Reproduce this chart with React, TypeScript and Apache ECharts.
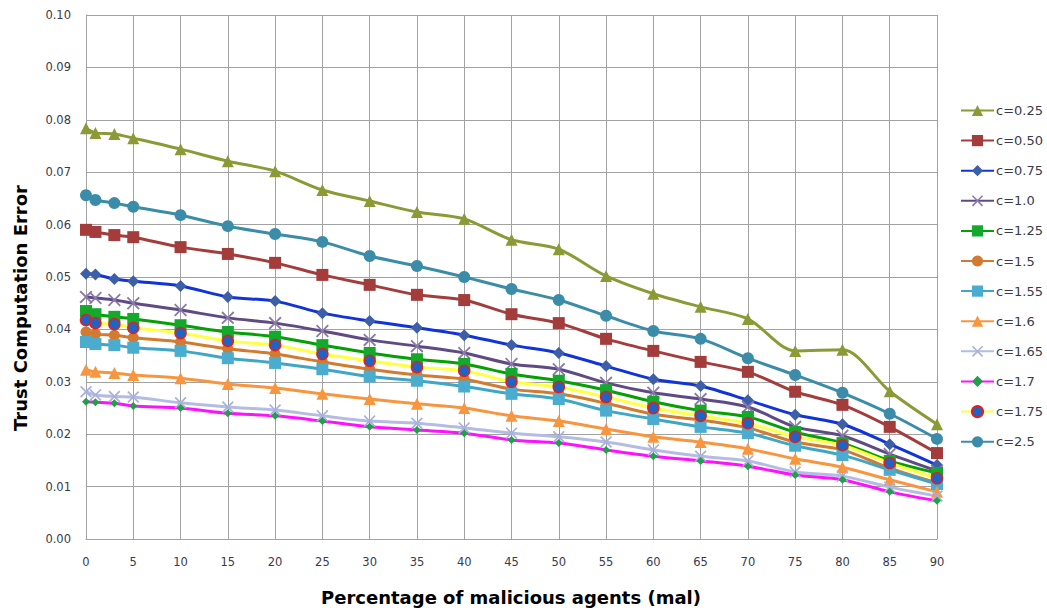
import React, { useEffect, useRef } from "react";
import * as echarts from "echarts";

const xValues = [0, 1, 3, 5, 10, 15, 20, 25, 30, 35, 40, 45, 50, 55, 60, 65, 70, 75, 80, 85, 90];
const yTicks = [0, 0.01, 0.02, 0.03, 0.04, 0.05, 0.06, 0.07, 0.08, 0.09, 0.1];

const c025 = [0.0784,0.0775,0.0773,0.0765,0.0744,0.0721,0.0702,0.0666,0.0645,0.0624,0.0611,0.0571,0.0553,0.0502,0.0468,0.0443,0.0420,0.0359,0.0361,0.0282,0.0219];
const c050 = [0.0590,0.0586,0.0580,0.0576,0.0557,0.0544,0.0527,0.0504,0.0485,0.0466,0.0456,0.0429,0.0412,0.0382,0.0359,0.0338,0.0319,0.0281,0.0256,0.0214,0.0164];
const c075 = [0.0506,0.0505,0.0496,0.0492,0.0483,0.0462,0.0454,0.0431,0.0416,0.0403,0.0389,0.0370,0.0355,0.0330,0.0305,0.0292,0.0265,0.0237,0.0219,0.0181,0.0141];
const c100 = [0.0462,0.0460,0.0456,0.0450,0.0437,0.0422,0.0412,0.0397,0.0380,0.0368,0.0355,0.0334,0.0324,0.0298,0.0279,0.0267,0.0252,0.0214,0.0197,0.0162,0.0130];
const c125 = [0.0435,0.0429,0.0424,0.0420,0.0408,0.0395,0.0386,0.0370,0.0355,0.0343,0.0334,0.0315,0.0302,0.0284,0.0262,0.0245,0.0233,0.0204,0.0183,0.0149,0.0126];
const c150 = [0.0395,0.0391,0.0389,0.0384,0.0376,0.0363,0.0353,0.0338,0.0324,0.0313,0.0305,0.0286,0.0277,0.0259,0.0238,0.0227,0.0212,0.0185,0.0170,0.0135,0.0107];
const c155 = [0.0376,0.0372,0.0370,0.0365,0.0359,0.0345,0.0336,0.0324,0.0310,0.0302,0.0291,0.0277,0.0267,0.0245,0.0229,0.0214,0.0202,0.0178,0.0160,0.0132,0.0105];
const c160 = [0.0323,0.0319,0.0317,0.0313,0.0307,0.0296,0.0288,0.0277,0.0267,0.0258,0.0250,0.0235,0.0225,0.0210,0.0195,0.0185,0.0172,0.0153,0.0137,0.0113,0.0090];
const c165 = [0.0281,0.0275,0.0272,0.0271,0.0260,0.0252,0.0246,0.0235,0.0225,0.0221,0.0212,0.0202,0.0195,0.0185,0.0170,0.0158,0.0149,0.0128,0.0120,0.0099,0.0082];
const c170 = [0.0262,0.0261,0.0259,0.0254,0.0250,0.0240,0.0235,0.0225,0.0214,0.0208,0.0202,0.0189,0.0183,0.0170,0.0158,0.0149,0.0139,0.0122,0.0113,0.0090,0.0073];
const c175 = [0.0418,0.0412,0.0410,0.0403,0.0393,0.0378,0.0370,0.0353,0.0340,0.0328,0.0321,0.0300,0.0290,0.0271,0.0250,0.0235,0.0221,0.0195,0.0179,0.0145,0.0116];
const c250 = [0.0656,0.0647,0.0641,0.0634,0.0618,0.0597,0.0582,0.0567,0.0540,0.0521,0.0500,0.0477,0.0456,0.0426,0.0397,0.0382,0.0345,0.0313,0.0279,0.0239,0.0191];

const seriesNames = ["c=0.25", "c=0.50", "c=0.75", "c=1.0", "c=1.25", "c=1.5", "c=1.55", "c=1.6", "c=1.65", "c=1.7", "c=1.75", "c=2.5"];
const seriesValues = [c025, c050, c075, c100, c125, c150, c155, c160, c165, c170, c175, c250];

const X_SYMBOL = "path://M0,1L1,0L5,4L9,0L10,1L6,5L10,9L9,10L5,6L1,10L0,9L4,5Z";

const styles = [
  { line: "#8c9a36", fill: "#8c9a36", border: "#8c9a36", symbol: "triangle", size: 12 },
  { line: "#a43c3c", fill: "#a43c3c", border: "#a43c3c", symbol: "rect", size: 12 },
  { line: "#1034d8", fill: "#3d5fa8", border: "#3d5fa8", symbol: "diamond", size: 12 },
  { line: "#5e4a84", fill: "#8a7aa8", border: "#8a7aa8", symbol: X_SYMBOL, size: 13 },
  { line: "#04a004", fill: "#14a82c", border: "#14a82c", symbol: "rect", size: 12 },
  { line: "#d27a30", fill: "#d27a30", border: "#d27a30", symbol: "circle", size: 11 },
  { line: "#3fa6c8", fill: "#4aaccf", border: "#4aaccf", symbol: "rect", size: 12 },
  { line: "#f89640", fill: "#f89640", border: "#f89640", symbol: "triangle", size: 12 },
  { line: "#b4bce2", fill: "#a8b0dc", border: "#a8b0dc", symbol: X_SYMBOL, size: 12 },
  { line: "#ff10ff", fill: "#20a048", border: "#20a048", symbol: "diamond", size: 8 },
  { line: "#ffff44", fill: "#1f64c4", border: "#e02020", symbol: "circle", size: 11 },
  { line: "#3a8ca8", fill: "#3a8ca8", border: "#3a8ca8", symbol: "circle", size: 12 },
];

export default function App() {
  const ref = useRef<HTMLDivElement>(null);
  useEffect(() => {
    if (!ref.current) return;
    const chart = echarts.init(ref.current, null, { renderer: "svg" });
    const labelColor = "#3a3a4c";
    const gridColor = "#a2a2a2";
    chart.setOption({
      animation: false,
      backgroundColor: "#ffffff",
      grid: { left: 86, right: 110, top: 15, bottom: 75, containLabel: false },
      xAxis: {
        type: "value",
        min: 0,
        max: 90,
        interval: 5,
        axisLine: { show: true, lineStyle: { color: gridColor, width: 1 } },
        axisTick: { show: false },
        splitLine: { show: true, lineStyle: { color: gridColor, width: 1 } },
        axisLabel: { color: labelColor, fontFamily: "DejaVu Sans", fontSize: 11.5, margin: 17 },
      },
      yAxis: {
        type: "value",
        min: yTicks[0],
        max: yTicks[yTicks.length - 1],
        interval: 0.01,
        axisLine: { show: true, lineStyle: { color: gridColor, width: 1 } },
        axisTick: { show: false },
        splitLine: { show: true, lineStyle: { color: gridColor, width: 1 } },
        axisLabel: {
          color: labelColor,
          fontFamily: "DejaVu Sans",
          fontSize: 11.5,
          margin: 15,
          formatter: (v: number) => v.toFixed(2),
        },
      },
      legend: {
        orient: "vertical",
        left: 960,
        top: 104,
        padding: 0,
        itemWidth: 33,
        itemHeight: 14,
        itemGap: 17.1,
        data: seriesNames,
        textStyle: { color: labelColor, fontFamily: "DejaVu Sans", fontSize: 13, padding: [0, 0, 0, -3] },
      },
      graphic: [
        {
          type: "text",
          x: 20,
          y: 308,
          rotation: Math.PI / 2,
          style: {
            text: "Trust Computation Error",
            font: "bold 18px 'DejaVu Sans'",
            fill: "#000000",
            align: "center",
            verticalAlign: "middle",
          },
        },
        {
          type: "text",
          x: 511,
          y: 597,
          style: {
            text: "Percentage of malicious agents (mal)",
            font: "bold 18px 'DejaVu Sans'",
            fill: "#000000",
            align: "center",
            verticalAlign: "middle",
          },
        },
      ],
      series: seriesNames.map((name, i) => ({
        name,
        type: "line",
        smooth: 0.3,
        data: xValues.map((x, j) => [x, seriesValues[i][j]]),
        symbol: styles[i].symbol,
        symbolSize: styles[i].size,
        lineStyle: { color: styles[i].line, width: 3 },
        itemStyle: {
          color: styles[i].fill,
          borderColor: styles[i].border,
          borderWidth: i === 10 ? 1.5 : 0,
        },
      })),
    });
    return () => chart.dispose();
  }, []);
  return (
    <div
      ref={ref}
      style={{ position: "fixed", left: 0, top: 0, width: 1047, height: 614 }}
    />
  );
}
